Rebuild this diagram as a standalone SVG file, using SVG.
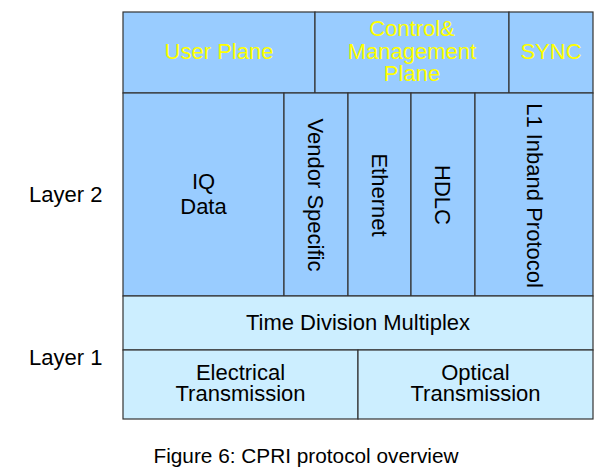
<svg xmlns="http://www.w3.org/2000/svg" width="603" height="472" viewBox="0 0 603 472">
<style>
.c{stroke:#333;stroke-width:1.2}
.d{fill:#99CCFF}
.l{fill:#CCEEFF}
text{font-family:"Liberation Sans",Arial,sans-serif;font-size:22px;fill:#000}
.y{fill:#FFFF00}
.m{text-anchor:middle}
</style>
<rect width="603" height="472" fill="#fff"/>
<g id="user-plane"><rect class="c d" x="123" y="12" width="192" height="81"/><text class="y m" x="219" y="59">User Plane</text></g>
<g id="control-plane"><rect class="c d" x="315" y="12" width="194" height="81"/><text class="y m" x="412" y="36">Control&amp;</text><text class="y m" x="412" y="58.5">Management</text><text class="y m" x="412" y="81">Plane</text></g>
<g id="sync"><rect class="c d" x="509" y="12" width="84" height="81"/><text class="y m" x="551" y="59">SYNC</text></g>
<g id="iq-data"><rect class="c d" x="123" y="93" width="161" height="203"/><text class="m" x="203.5" y="189">IQ</text><text class="m" x="203.5" y="214">Data</text></g>
<g id="vendor-specific"><rect class="c d" x="284" y="93" width="64" height="203"/><text class="m" transform="translate(308.3,195) rotate(90)">Vendor Specific</text></g>
<g id="ethernet"><rect class="c d" x="348" y="93" width="63" height="203"/><text class="m" transform="translate(371.8,195) rotate(90)">Ethernet</text></g>
<g id="hdlc"><rect class="c d" x="411" y="93" width="64" height="203"/><text class="m" transform="translate(435.3,195) rotate(90)">HDLC</text></g>
<g id="l1-inband"><rect class="c d" x="475" y="93" width="118" height="203"/><text class="m" transform="translate(526.8,195.5) rotate(90)">L1 Inband Protocol</text></g>
<g id="tdm"><rect class="c l" x="123" y="296" width="470" height="54"/><text class="m" x="358" y="330">Time Division Multiplex</text></g>
<g id="electrical"><rect class="c l" x="123" y="350" width="235" height="69"/><text class="m" x="240.5" y="379.5">Electrical</text><text class="m" x="240.5" y="401">Transmission</text></g>
<g id="optical"><rect class="c l" x="358" y="350" width="235" height="69"/><text class="m" x="475.5" y="379.5">Optical</text><text class="m" x="475.5" y="401">Transmission</text></g>
<g id="layer-labels"><text x="29" y="202">Layer 2</text><text x="29" y="365">Layer 1</text></g>
<g id="connectors"/>
<text class="m" x="306" y="463" style="font-size:20.8px">Figure 6: CPRI protocol overview</text>
</svg>
